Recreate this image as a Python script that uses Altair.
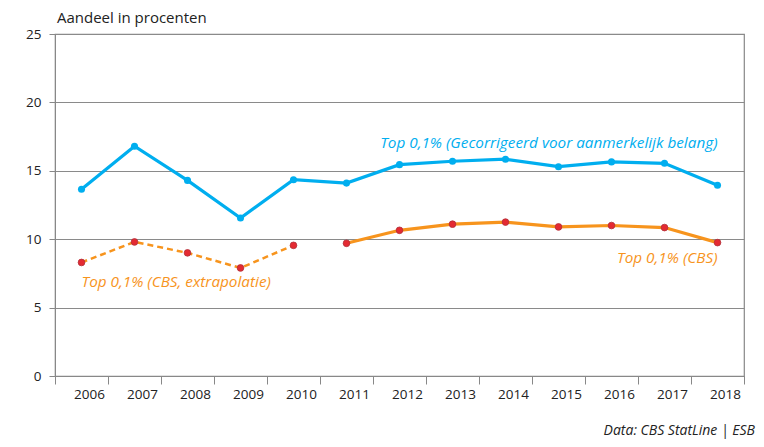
import altair as alt
import pandas as pd

years = list(range(2006, 2019))
gecorrigeerd = [13.65, 16.8, 14.3, 11.55, 14.35, 14.1, 15.45, 15.7, 15.85, 15.3, 15.65, 15.55, 13.95]
cbs = [8.3, 9.8, 9.0, 7.9, 9.55, 9.7, 10.65, 11.1, 11.25, 10.9, 11.0, 10.85, 9.75]
cbs_segment = ["extrapolatie"] * 5 + ["cbs"] * 8

y_ticks = [0, 5, 10, 15, 20, 25]
x_ticks = [y - 0.5 for y in years] + [2018.5]

label_text = ["Top 0,1% (Gecorrigeerd voor aanmerkelijk belang)", "Top 0,1% (CBS)", "Top 0,1% (CBS, extrapolatie)"]
label_year = [2018, 2018, 2006]
label_value = [17.03, 8.63, 6.87]
label_align = ["right", "right", "left"]
label_color = ["#00AEEF", "#F7941D", "#F7941D"]

BLUE = "#00AEEF"
ORANGE = "#F7941D"
RED = "#E42A32"
FONT = "Open Sans"

df_blue = pd.DataFrame({"jaar": years, "waarde": gecorrigeerd})
df_cbs = pd.DataFrame({"jaar": years, "waarde": cbs, "segment": cbs_segment})
df_ext = df_cbs[df_cbs.segment == "extrapolatie"]
df_sol = df_cbs[df_cbs.segment == "cbs"]

xscale = alt.Scale(domain=[2005.5, 2018.5], nice=False, zero=False)
yscale = alt.Scale(domain=[0, 25], nice=False)

xenc = alt.X("jaar:Q", scale=xscale, axis=alt.Axis(
    values=x_ticks, title=None, grid=False,
    labelExpr="datum.value < 2018 ? format(datum.value + 0.5, 'd') : ''",
    labelOffset=34, labelPadding=3, tickSize=8, labelFontSize=13.5,
    labelColor="#222222", labelFont=FONT, tickColor="#888888",
    domainColor="#888888", labelFlush=False))
yenc = alt.Y("waarde:Q", scale=yscale, axis=alt.Axis(
    values=y_ticks, title=None, grid=True, gridColor="#8a8a8a",
    tickSize=6, labelPadding=8, labelFontSize=13.5, labelColor="#222222",
    labelFont=FONT, tickColor="#888888", domainColor="#888888"))

blue_line = alt.Chart(df_blue).mark_line(color=BLUE, strokeWidth=3.2).encode(x=xenc, y=yenc)
blue_pts = alt.Chart(df_blue).mark_circle(color=BLUE, size=50, opacity=1).encode(x="jaar:Q", y="waarde:Q")

ext_line = alt.Chart(df_ext).mark_line(color=ORANGE, strokeWidth=2.5, strokeDash=[6, 4]).encode(x="jaar:Q", y="waarde:Q")
sol_line = alt.Chart(df_sol).mark_line(color=ORANGE, strokeWidth=3.2).encode(x="jaar:Q", y="waarde:Q")
cbs_pts = alt.Chart(df_cbs).mark_point(filled=True, fill=RED, stroke="#B0303A", strokeWidth=0.8, size=45, opacity=1).encode(x="jaar:Q", y="waarde:Q")

df_lab = pd.DataFrame({"tekst": label_text, "jaar": label_year, "waarde": label_value,
                       "align": label_align, "kleur": label_color})
labels = []
for i in range(len(label_text)):
    labels.append(alt.Chart(df_lab.iloc[[i]]).mark_text(
        align=label_align[i], baseline="middle", fontSize=15.3, fontStyle="italic",
        font=FONT, color=label_color[i]).encode(x="jaar:Q", y="waarde:Q", text="tekst:N"))

title = alt.Chart(pd.DataFrame({"t": ["Aandeel in procenten"]})).mark_text(
    align="left", baseline="middle", fontSize=15, font=FONT,
    color="#222222").encode(x=alt.value(2), y=alt.value(-16), text="t:N")

footer = alt.Chart(pd.DataFrame({"t": ["Data: CBS StatLine | ESB"]})).mark_text(
    align="right", baseline="middle", fontSize=14, fontStyle="italic", font=FONT,
    color="#222222").encode(x=alt.value(700), y=alt.value(397), text="t:N")

chart = alt.layer(blue_line, ext_line, sol_line, blue_pts, cbs_pts, *labels, title, footer).properties(
    width=689, height=342,
    padding={"left": 47, "top": 26, "right": 12, "bottom": 68},
    autosize=alt.AutoSizeParams(type="none"),
).configure_view(stroke="#888888", strokeWidth=1.2)

chart.save("out.html", embed_options={"renderer": "svg", "actions": False})
